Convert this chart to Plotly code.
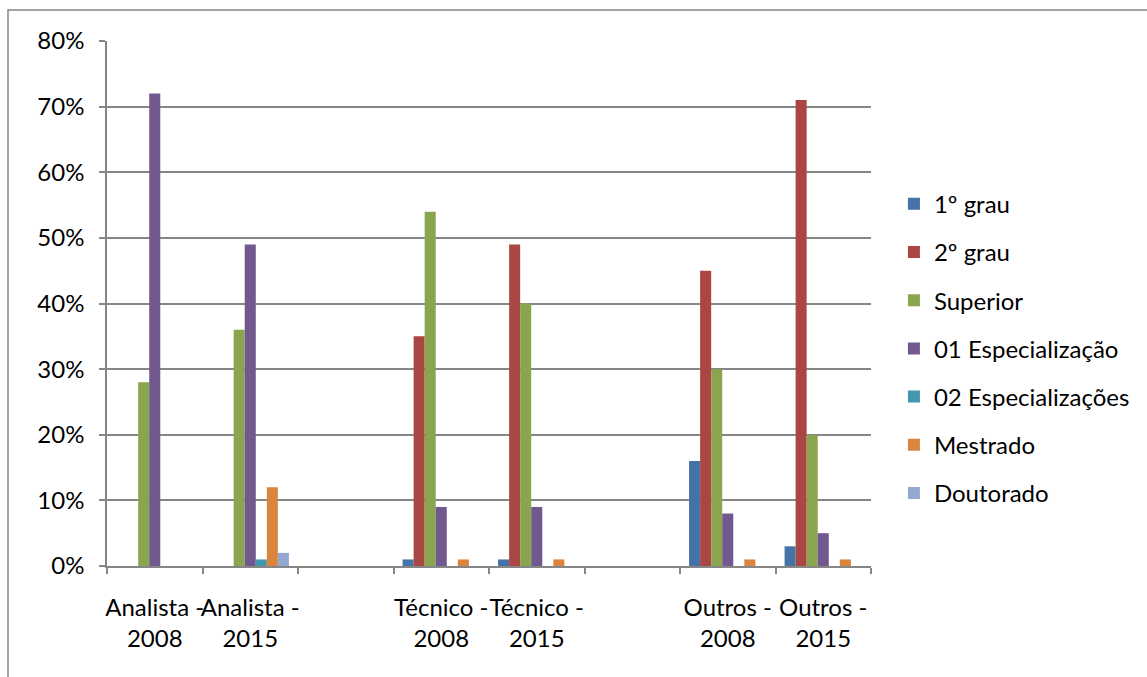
import plotly.graph_objects as go

categories = ["Analista -<br>2008", "Analista -<br>2015", " ",
              "Técnico -<br>2008", "Técnico -<br>2015", "  ",
              "Outros -<br>2008", "Outros -<br>2015"]
data_categories = ["Analista -<br>2008", "Analista -<br>2015",
                   "Técnico -<br>2008", "Técnico -<br>2015",
                   "Outros -<br>2008", "Outros -<br>2015"]

series_names = ["1º grau", "2º grau", "Superior", "01 Especialização",
                "02 Especializações", "Mestrado", "Doutorado"]

grau1 = [0, 0, 1, 1, 16, 3]
grau2 = [0, 0, 35, 49, 45, 71]
superior = [28, 36, 54, 40, 30, 20]
esp01 = [72, 49, 9, 9, 8, 5]
esp02 = [0, 1, 0, 0, 0, 0]
mestrado = [0, 12, 1, 1, 1, 1]
doutorado = [0, 2, 0, 0, 0, 0]

series_values = [grau1, grau2, superior, esp01, esp02, mestrado, doutorado]
colors = ["#4572A7", "#AA4643", "#89A54E", "#71588F", "#4198AF", "#DB843D", "#93A9CF"]

y_ticks = [0, 10, 20, 30, 40, 50, 60, 70, 80]
y_tick_labels = [f"{v}%" for v in y_ticks]

FONT = "Lato"
FS = 24
GRID = "#868686"

fig = go.Figure()
for i, (name, vals, col) in enumerate(zip(series_names, series_values, colors)):
    fig.add_trace(go.Bar(
        x=data_categories, y=vals, name=name,
        marker=dict(color=col, line=dict(width=0)),
        legendgroup=f"g{i}",
        hoverinfo="skip",
    ))

fig.update_layout(
    width=1147, height=677,
    margin=dict(l=107, r=276, t=41, b=111, autoexpand=False),
    paper_bgcolor="white", plot_bgcolor="white",
    font=dict(family=FONT, size=FS, color="black"),
    barmode="group", bargap=0.19, bargroupgap=0,
    showlegend=True,
    legend=dict(x=1.030, y=0.732, xanchor="left", yanchor="top",
                tracegroupgap=14, font=dict(family=FONT, size=FS, color="black"),
                bgcolor="rgba(0,0,0,0)"),
    xaxis=dict(type="category", categoryorder="array", categoryarray=categories,
               range=[-0.5, 7.5], tickson="boundaries", ticks="outside",
               ticklen=6, tickcolor=GRID, tickwidth=1.5, tickangle=0,
               automargin=False,
               showline=True, linecolor=GRID, linewidth=1.5,
               showgrid=False, ticklabelstandoff=19,
               tickfont=dict(family=FONT, size=FS, color="black")),
    yaxis=dict(range=[0, 80], tickvals=y_ticks, ticktext=y_tick_labels,
               ticks="outside", ticklen=6, tickcolor=GRID, tickwidth=1.5,
               automargin=False,
               showline=True, linecolor=GRID, linewidth=1.5,
               showgrid=True, gridcolor=GRID, gridwidth=1.5,
               zeroline=False, ticklabelstandoff=10,
               tickfont=dict(family=FONT, size=FS, color="black")),
    shapes=[dict(type="rect", xref="paper", yref="paper",
                 x0=(8 - 107) / 764, x1=(1200 - 107) / 764,
                 y0=(566 - 720) / 525, y1=(566 - 10) / 525,
                 line=dict(color=GRID, width=1.5), fillcolor="rgba(0,0,0,0)",
                 layer="below")],
)

fig.write_html("out.html")
